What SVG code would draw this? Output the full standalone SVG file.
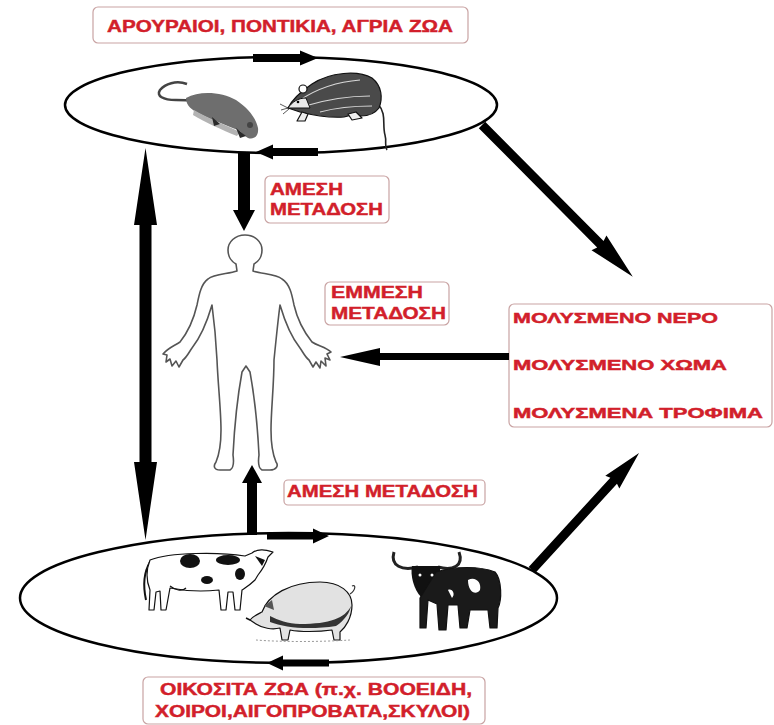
<svg xmlns="http://www.w3.org/2000/svg" width="774" height="725" viewBox="0 0 774 725">
<style>
.box{fill:#fff;stroke:#c9a3a3;stroke-width:1.2}
.t{font-family:"Liberation Sans",Arial,sans-serif;font-weight:700;fill:#d21f2b;stroke:#d21f2b;stroke-width:0.45}
.ell{fill:none;stroke:#000;stroke-width:2.5}
.arr{fill:#000;stroke:none}
.out{stroke:#111;stroke-width:1.2;stroke-linejoin:round}
</style>
<rect width="774" height="725" fill="#fff"/>

<g id="wild-animals">
  <ellipse class="ell" cx="281" cy="105" rx="216" ry="48"/>
  <g id="mouse">
    <path d="M187,84 C176,80 165,84 160,90 C156,96 163,100 176,100 C183,100 188,100 193,101" fill="none" stroke="#444" stroke-width="2.5"/>
    <path d="M186,98 C200,90 222,92 236,100 C248,108 256,118 258,128 C259,136 254,140 248,138 C244,136 242,132 238,130 C228,126 212,120 200,114 C192,110 186,106 186,98 Z" fill="#6e6e6e"/>
    <path d="M194,110 C206,117 225,125 240,132 L237,136 C222,130 205,122 193,115 Z" fill="#b3b3b3"/>
    <path d="M212,117 L220,124 L214,126 Z M236,128 L246,136 L240,138 Z" fill="#2a2a2a"/>
    <circle cx="250" cy="125" r="3" fill="#444"/>
  </g>
  <g id="rat">
    <path d="M378,104 C387,114 382,125 385,135 C387,142 384,146 387,150" fill="none" stroke="#222" stroke-width="1.6"/>
    <path class="out" d="M288,108 C292,100 300,92 312,84 C330,72 358,70 372,78 C382,86 383,98 379,108 C373,116 362,117 352,115 L344,117 C330,118 312,115 300,112 Z" fill="#4a4a4a"/>
    <path d="M300,100 C315,90 335,82 360,80 M305,106 C325,100 345,96 370,96 M320,112 C335,108 350,106 372,106" fill="none" stroke="#d8d8d8" stroke-width="1.2"/>
    <path d="M288,108 C292,102 298,98 306,98 L310,108 Z" fill="#e8e8e8" stroke="#111" stroke-width="1"/>
    <circle cx="303" cy="89" r="4" fill="#fff" stroke="#111" stroke-width="1.2"/>
    <circle cx="298" cy="102" r="1.3" fill="#000"/>
    <path d="M288,108 L280,104 M288,108 L281,110 M289,109 L283,114" stroke="#111" stroke-width="0.7"/>
    <path class="out" d="M302,112 L297,121 L305,121 L308,114 Z M348,114 L352,120 L362,118 L356,112 Z" fill="#eee"/>
  </g>
</g>

<g id="human">
  <path d="M245,235 C255,235 262,242 262,250 C262,257 258,262 254,264 L253,271 C262,274 276,274 282,279 C290,284 292,295 294,305 C297,318 304,332 312,342 C318,346 326,347 331,352 L327,354 L330,360 L325,358 L326,366 L321,361 L320,368 L316,362 L313,367 L309,360 C305,357 303,352 300,348 C292,338 285,322 280,305 C278,320 276,340 274,360 C274,385 271,410 271,430 C271,445 273,455 276,462 C279,466 276,470 270,470 L262,470 C258,468 258,462 259,455 C258,435 256,405 250,372 L246,366 L242,372 C236,405 234,435 233,455 C234,462 234,468 230,470 L220,470 C214,470 213,466 216,462 C219,455 221,445 221,430 C221,410 218,385 217,360 C216,340 214,320 212,305 C207,322 200,338 192,348 C189,352 187,357 183,360 L179,367 L176,361 L172,366 L170,359 L166,362 L167,355 L163,354 C168,348 174,346 180,342 C188,332 194,318 197,305 C199,295 201,284 208,279 C214,274 228,274 237,271 L236,264 C232,262 228,257 228,250 C228,242 235,235 245,235 Z" fill="#fff" stroke="#555" stroke-width="1.6" stroke-linejoin="round"/>
</g>

<g id="domestic-animals">
  <ellipse class="ell" cx="288.5" cy="598" rx="268.5" ry="65"/>
  <g id="cow">
    <path d="M150,562 C144,572 143,586 146,600" fill="none" stroke="#111" stroke-width="2"/>
    <path class="out" d="M150,560 C170,552 220,552 245,556 L252,553 C258,548 266,550 273,552 L268,557 C266,563 262,570 258,575 L255,580 C250,585 245,588 242,590 L240,610 L235,610 L233,592 L228,592 L226,610 L221,610 L219,590 C200,592 180,590 170,588 L166,610 L161,610 L160,591 L156,592 L154,610 L149,610 L150,590 C146,580 146,570 150,560 Z" fill="#fff"/>
    <ellipse cx="190" cy="561" rx="10" ry="7" fill="#111"/>
    <ellipse cx="228" cy="560" rx="12" ry="5" fill="#111"/>
    <ellipse cx="207" cy="580" rx="6" ry="4" fill="#111"/>
    <ellipse cx="240" cy="574" rx="5" ry="6" fill="#111"/>
    <path d="M255,556 L265,560 L262,566 Z" fill="#111"/>
    <path d="M170,586 C175,590 182,592 186,588" fill="none" stroke="#111" stroke-width="1.2"/>
  </g>
  <g id="pig">
    <path class="out" d="M262,612 C268,595 290,582 320,582 C340,582 352,592 352,605 C352,618 345,628 340,632 L340,640 L334,640 L332,630 C318,632 300,632 290,630 L288,640 L282,640 L280,628 C272,630 262,628 256,624 L250,620 C253,616 258,614 262,612 Z" fill="#e2e2e2"/>
    <path d="M270,622 C285,628 310,630 336,626 C345,620 350,612 351,606 C345,618 330,624 300,624 C288,624 278,620 270,616 Z" fill="#333"/>
    <path d="M264,606 L272,600 L274,610 Z" fill="#555"/>
    <path d="M350,594 C356,590 356,584 352,586" fill="none" stroke="#333" stroke-width="1.2"/>
    <path d="M250,620 L246,618" stroke="#111" stroke-width="1.5"/>
    <path d="M256,640 C280,642 320,642 350,640" fill="none" stroke="#999" stroke-width="1" stroke-dasharray="2 2"/>
  </g>
  <g id="buffalo">
    <path d="M418,567 C402,571 390,566 394,552 M438,567 C453,571 464,566 459,552" fill="none" stroke="#222" stroke-width="3"/>
    <path d="M412,566 L440,566 C441,575 437,590 430,597 L421,597 C414,590 410,575 412,566 Z" fill="#111"/>
    <path class="out" d="M436,572 C455,566 480,566 495,572 C502,580 502,600 498,608 L497,628 L490,628 L488,610 L470,610 L467,628 L460,628 L458,605 L448,605 L446,630 L439,630 L437,604 L428,600 L426,628 L420,628 L420,598 Z" fill="#1a1a1a"/>
    <path d="M468,580 C475,576 482,582 480,590 C476,596 468,592 468,580 Z M448,590 C452,588 456,594 452,598 Z" fill="#fff"/>
    <circle cx="420" cy="575" r="1.5" fill="#fff"/>
    <circle cx="432" cy="575" r="1.5" fill="#fff"/>
  </g>
</g>

<g id="labels">
  <g id="label-wild">
    <rect class="box" x="93" y="7" width="375" height="36" rx="5"/>
    <text class="t" x="107" y="32" font-size="17" textLength="346" lengthAdjust="spacingAndGlyphs">ΑΡΟΥΡΑΙΟΙ, ΠΟΝΤΙΚΙΑ, ΑΓΡΙΑ ΖΩΑ</text>
  </g>
  <g id="label-direct-top">
    <rect class="box" x="265" y="176" width="124" height="47" rx="5"/>
    <text class="t" x="270" y="195" font-size="16.5" textLength="73" lengthAdjust="spacingAndGlyphs">ΑΜΕΣΗ</text>
    <text class="t" x="270" y="215" font-size="16.5" textLength="113" lengthAdjust="spacingAndGlyphs">ΜΕΤΑΔΟΣΗ</text>
  </g>
  <g id="label-indirect">
    <rect class="box" x="325" y="282" width="124" height="43" rx="5"/>
    <text class="t" x="331" y="298" font-size="16.5" textLength="92" lengthAdjust="spacingAndGlyphs">ΕΜΜΕΣΗ</text>
    <text class="t" x="331" y="319" font-size="16.5" textLength="115" lengthAdjust="spacingAndGlyphs">ΜΕΤΑΔΟΣΗ</text>
  </g>
  <g id="label-environment">
    <rect class="box" x="509" y="304" width="263" height="123" rx="5"/>
    <text class="t" x="513" y="323" font-size="14" textLength="205" lengthAdjust="spacingAndGlyphs">ΜΟΛΥΣΜΕΝΟ ΝΕΡΟ</text>
    <text class="t" x="513" y="370" font-size="14" textLength="214" lengthAdjust="spacingAndGlyphs">ΜΟΛΥΣΜΕΝΟ ΧΩΜΑ</text>
    <text class="t" x="513" y="418" font-size="14" textLength="250" lengthAdjust="spacingAndGlyphs">ΜΟΛΥΣΜΕΝΑ ΤΡΟΦΙΜΑ</text>
  </g>
  <g id="label-direct-bottom">
    <rect class="box" x="284" y="480" width="201" height="25" rx="4"/>
    <text class="t" x="287" y="497" font-size="16.5" textLength="191" lengthAdjust="spacingAndGlyphs">ΑΜΕΣΗ ΜΕΤΑΔΟΣΗ</text>
  </g>
  <g id="label-domestic">
    <rect class="box" x="143" y="677" width="342" height="47" rx="5"/>
    <text class="t" x="160" y="695" font-size="16" textLength="312" lengthAdjust="spacingAndGlyphs">ΟΙΚΟΣΙΤΑ ΖΩΑ (π.χ. ΒΟΟΕΙΔΗ,</text>
    <text class="t" x="155" y="717" font-size="16" textLength="315" lengthAdjust="spacingAndGlyphs">ΧΟΙΡΟΙ,ΑΙΓΟΠΡΟΒΑΤΑ,ΣΚΥΛΟΙ)</text>
  </g>
</g>

<g id="connectors">
  <polygon class="arr" points="253,54 300,54 300,50.5 318,58 300,65.5 300,62 253,62"/>
  <polygon class="arr" points="318,148 273,148 273,144.5 256,152 273,159.5 273,156 318,156"/>
  <polygon class="arr" points="267,532.5 313,532.5 313,528.5 329,536 313,543.5 313,539.5 267,539.5"/>
  <polygon class="arr" points="329,659.5 283,659.5 283,655.5 267,663 283,670.5 283,666.5 329,666.5"/>
  <polygon class="arr" points="238,153 250,153 250,210 255,210 244,231 233,210 238,210"/>
  <polygon class="arr" points="247,535 257,535 257,483 262,483 252,465 242,483 247,483"/>
  <polygon class="arr" points="145.5,148 157,225 151.5,225 151.5,462 157,462 145.5,540 134,462 139.5,462 139.5,225 134,225"/>
  <polygon class="arr" points="509,353 380,353 380,348 340,357 380,366 380,360 509,360"/>
  <g transform="translate(482,125) rotate(45.2)">
    <polygon class="arr" points="0,-4.5 168,-4.5 166,-10.5 214,0 166,10.5 168,4.5 0,4.5"/>
  </g>
  <g transform="translate(532,570) rotate(-47.55)">
    <polygon class="arr" points="0,-4.5 121,-4.5 119,-9.5 158.6,0 119,9.5 121,4.5 0,4.5"/>
  </g>
</g>
</svg>
